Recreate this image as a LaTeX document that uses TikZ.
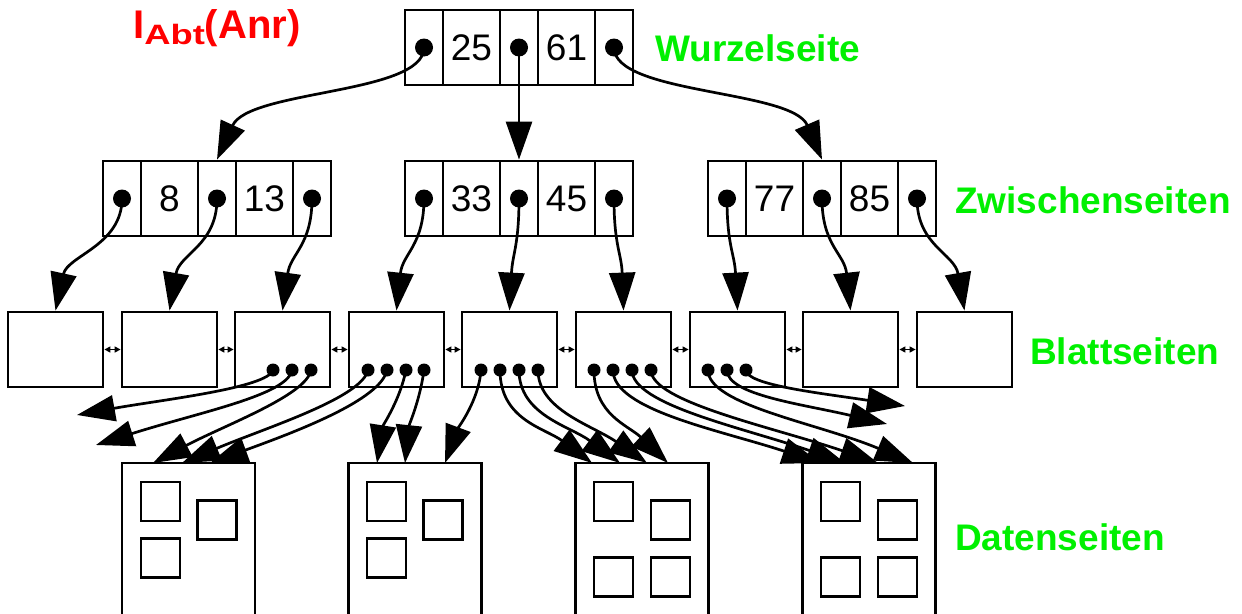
\documentclass[tikz,border=0pt]{standalone}
\usepackage{fontspec}
\setmainfont{Liberation Sans}
\usetikzlibrary{arrows.meta}
\definecolor{lblgreen}{RGB}{0,240,0}
\definecolor{lblred}{RGB}{255,0,0}
\begin{document}
\begin{tikzpicture}[x=1pt,y=-1pt,
  box/.style={draw, line width=2.8pt, inner sep=0pt, minimum height=75pt},
  pcell/.style={box, minimum width=38pt},
  kcell/.style={box, minimum width=57pt, font=\fontsize{37}{40}\selectfont},
  leaf/.style={box, minimum width=95pt},
  page/.style={draw, line width=2.8pt, inner sep=0pt, minimum width=133pt, minimum height=170pt},
  rec/.style={draw, line width=2.8pt, inner sep=0pt, minimum size=39pt},
  bigdot/.style={circle, fill=black, inner sep=0pt, minimum size=18pt},
  smalldot/.style={circle, fill=black, inner sep=0pt, minimum size=13pt},
  ptr/.style={line width=2.7pt, -{Triangle[length=38pt,width=26pt]}},
  link/.style={line width=1.4pt, {Triangle[length=6pt,width=6pt]}-{Triangle[length=6pt,width=6pt]}},
  lbl/.style={anchor=base west, inner sep=0pt, text=lblgreen, font=\bfseries\fontsize{37}{40}\selectfont}
]
\useasboundingbox (0,0) rectangle (1242,613);
\clip (0,0) rectangle (1242,613);

% title
\node[anchor=base west, inner sep=0pt, text=lblred, font=\bfseries\fontsize{40}{44}\selectfont] (title) at (133,38)
  {I\raisebox{-6pt}{\scalebox{1.3}[1]{\fontsize{28}{30}\selectfont Abt}}(Anr)};

% root
\node[pcell] (r1) at (424,47.5) {};
\node[kcell] (r2) at (471.5,47.5) {25};
\node[pcell] (r3) at (519,47.5) {};
\node[kcell] (r4) at (566.5,47.5) {61};
\node[pcell] (r5) at (614,47.5) {};
\node[bigdot] (rd1) at (r1) {};
\node[bigdot] (rd3) at (r3) {};
\node[bigdot] (rd5) at (r5) {};

% intermediate left
\node[pcell] (a1) at (122,198.5) {};
\node[kcell] (a2) at (169.5,198.5) {8};
\node[pcell] (a3) at (217,198.5) {};
\node[kcell] (a4) at (264.5,198.5) {13};
\node[pcell] (a5) at (312,198.5) {};
% intermediate middle
\node[pcell] (b1) at (424,198.5) {};
\node[kcell] (b2) at (471.5,198.5) {33};
\node[pcell] (b3) at (519,198.5) {};
\node[kcell] (b4) at (566.5,198.5) {45};
\node[pcell] (b5) at (614,198.5) {};
% intermediate right
\node[pcell] (c1) at (727,198.5) {};
\node[kcell] (c2) at (774.5,198.5) {77};
\node[pcell] (c3) at (822,198.5) {};
\node[kcell] (c4) at (869.5,198.5) {85};
\node[pcell] (c5) at (917,198.5) {};
\foreach \n in {a1,a3,a5,b1,b3,b5,c1,c3,c5} {\node[bigdot] (\n d) at (\n) {};}

% leaves
\node[leaf] (l1) at (55.5,349.5) {};
\node[leaf] (l2) at (169.5,349.5) {};
\node[leaf] (l3) at (282.5,349.5) {};
\node[leaf] (l4) at (396.5,349.5) {};
\node[leaf] (l5) at (509.5,349.5) {};
\node[leaf] (l6) at (623.5,349.5) {};
\node[leaf] (l7) at (737.5,349.5) {};
\node[leaf] (l8) at (850.5,349.5) {};
\node[leaf] (l9) at (964.5,349.5) {};
\foreach \i [evaluate=\i as \j using int(\i+1)] in {1,...,8} {\draw[link] (l\i.east) -- (l\j.west);}

% leaf dots
\node[smalldot] (e31) at (273,370) {};
\node[smalldot] (e32) at (292,370) {};
\node[smalldot] (e33) at (311,370) {};
\node[smalldot] (e41) at (368,370) {};
\node[smalldot] (e42) at (387,370) {};
\node[smalldot] (e43) at (406,370) {};
\node[smalldot] (e44) at (424,370) {};
\node[smalldot] (e51) at (481,370) {};
\node[smalldot] (e52) at (500,370) {};
\node[smalldot] (e53) at (519,370) {};
\node[smalldot] (e54) at (538,370) {};
\node[smalldot] (e61) at (594,370) {};
\node[smalldot] (e62) at (613,370) {};
\node[smalldot] (e63) at (632,370) {};
\node[smalldot] (e64) at (651,370) {};
\node[smalldot] (e71) at (708,370) {};
\node[smalldot] (e72) at (727,370) {};
\node[smalldot] (e73) at (746,370) {};

% data pages
\node[page] (d1) at (188.5,548) {};
\node[page] (d2) at (415,548) {};
\node[page] (d3) at (642,548) {};
\node[page] (d4) at (869,548) {};
\node[rec] (s11) at (160.5,501.5) {};
\node[rec] (s12) at (217,520) {};
\node[rec] (s13) at (160.5,558) {};
\node[rec] (s21) at (386.5,501.5) {};
\node[rec] (s22) at (443,520) {};
\node[rec] (s23) at (386.5,558) {};
\node[rec] (s31) at (613.5,501.5) {};
\node[rec] (s32) at (670.5,520) {};
\node[rec] (s33) at (613.5,577) {};
\node[rec] (s34) at (670.5,577) {};
\node[rec] (s41) at (840.5,501.5) {};
\node[rec] (s42) at (897.5,520) {};
\node[rec] (s43) at (840.5,577) {};
\node[rec] (s44) at (897.5,577) {};

% tip coordinates
\coordinate (t1) at (77,415);
\coordinate (t2) at (96,445);
\coordinate (t3) at (153,463);
\coordinate (t4) at (182,463);
\coordinate (t5) at (210,463);
\coordinate (t6) at (377,463);
\coordinate (t7) at (405,463);
\coordinate (t8) at (445,463);
\coordinate (t9) at (592,463);
\coordinate (t10) at (620,463);
\coordinate (t11) at (647,463);
\coordinate (t12) at (668,463);
\coordinate (t13) at (820,463);
\coordinate (t14) at (845,463);
\coordinate (t15) at (878,463);
\coordinate (t16) at (913,463);
\coordinate (t17) at (887,424);
\coordinate (t18) at (905,406);

% root pointers
\draw[ptr] (rd1.center) .. controls +(0,47) and +(32,-70) .. (a3.north);
\draw[ptr] (rd3.center) -- (b3.north);
\draw[ptr] (rd5.center) .. controls +(0,47) and +(-30,-70) .. (c3.north);

% intermediate pointers
\draw[ptr] (a1d.center) .. controls +(0,47) and +(12,-55) .. (l1.north);
\draw[ptr] (a3d.center) .. controls +(0,47) and +(10,-57) .. (l2.north);
\draw[ptr] (a5d.center) .. controls +(0,47) and +(8,-57) .. (l3.north);
\draw[ptr] (b1d.center) .. controls +(0,47) and +(6,-57) .. (l4.north);
\draw[ptr] (b3d.center) .. controls +(0,47) and +(3,-57) .. (l5.north);
\draw[ptr] (b5d.center) .. controls +(0,47) and +(-2,-57) .. (l6.north);
\draw[ptr] (c1d.center) .. controls +(0,47) and +(-3,-57) .. (l7.north);
\draw[ptr] (c3d.center) .. controls +(0,47) and +(-6,-57) .. (l8.north);
\draw[ptr] (c5d.center) .. controls +(0,47) and +(-10,-57) .. (l9.north);

% leaf to data pointers
\draw[ptr] (e31.center) .. controls +(-5,18) and +(83,-15) .. (t1);
\draw[ptr] (e32.center) .. controls +(-4,25) and +(104,-33) .. (t2);
\draw[ptr] (e33.center) .. controls +(-4,25) and +(72,-38) .. (t3);
\draw[ptr] (e41.center) .. controls +(-6,28) and +(83,-35) .. (t4);
\draw[ptr] (e42.center) .. controls +(-6,30) and +(85,-31) .. (t5);
\draw[ptr] (e43.center) .. controls +(-6,30) and +(6,-38) .. (t6);
\draw[ptr] (e44.center) .. controls +(-4,30) and +(4,-38) .. (t7);
\draw[ptr] (e51.center) .. controls +(-2,30) and +(13,-35) .. (t8);
\draw[ptr] (e52.center) .. controls +(0,50) and +(-47,-35) .. (t9);
\draw[ptr] (e53.center) .. controls +(0,45) and +(-50,-37) .. (t10);
\draw[ptr] (e54.center) .. controls +(0,40) and +(-55,-38) .. (t11);
\draw[ptr] (e61.center) .. controls +(0,45) and +(-40,-38) .. (t12);
\draw[ptr] (e62.center) .. controls +(0,40) and +(-100,-33) .. (t13);
\draw[ptr] (e63.center) .. controls +(0,35) and +(-100,-35) .. (t14);
\draw[ptr] (e64.center) .. controls +(0,32) and +(-105,-36) .. (t15);
\draw[ptr] (e71.center) .. controls +(0,35) and +(-95,-40) .. (t16);
\draw[ptr] (e72.center) .. controls +(0,25) and +(-85,-20) .. (t17);
\draw[ptr] (e73.center) .. controls +(0,15) and +(-85,-13) .. (t18);

% labels
\node[lbl] (lw) at (655,61) {Wurzelseite};
\node[lbl] (lz) at (955,213) {Zwischenseiten};
\node[lbl] (lb) at (1030,364) {Blattseiten};
\node[lbl] (ld) at (955,550) {Datenseiten};
\end{tikzpicture}
\end{document}
